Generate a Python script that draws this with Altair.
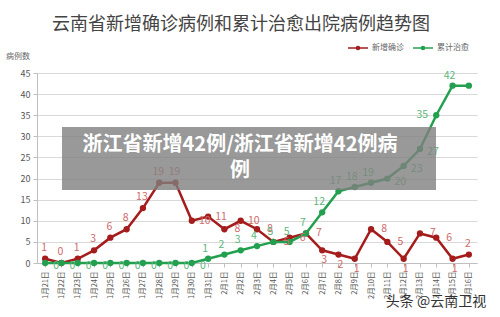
import altair as alt
import pandas as pd

dates = ["1月21日", "1月22日", "1月23日", "1月24日", "1月25日", "1月26日", "1月27日",
         "1月28日", "1月29日", "1月30日", "1月31日", "2月1日", "2月2日", "2月3日",
         "2月4日", "2月5日", "2月6日", "2月7日", "2月8日", "2月9日", "2月10日",
         "2月11日", "2月12日", "2月13日", "2月14日", "2月15日", "2月16日"]
new_cases = [1, 0, 1, 3, 6, 8, 13, 19, 19, 10, 11, 8, 10, 8, 5, 6, 7, 3, 2, 1, 8, 5, 1, 7, 6, 1, 2]
cured = [0, 0, 0, 0, 0, 0, 0, 0, 0, 0, 1, 2, 3, 4, 5, 5, 7, 12, 17, 18, 19, 20, 23, 27, 35, 42, 42]
y_ticks = [0, 5, 10, 15, 20, 25, 30, 35, 40, 45]

title_text = "云南省新增确诊病例和累计治愈出院病例趋势图"
overlay_lines = ["浙江省新增42例/浙江省新增42例病", "例"]
watermark = "头条 @云南卫视"

RED = "#a51c1c"
GREEN = "#23a04f"
RED_LBL = "#d06a6a"
GREEN_LBL = "#5bb87c"
FONT = "Noto Sans CJK SC"

df = pd.DataFrame({"date": dates, "idx": list(range(len(dates))), "new": new_cases, "cured": cured})

x_enc = alt.X("date:N", sort=dates, scale=alt.Scale(type="point", padding=0.5),
              axis=alt.Axis(title=None, labelAngle=270, labelAlign="right", labelBaseline="middle",
                            labelFontSize=7.5, labelColor="#555", labelPadding=4, grid=False,
                            domainColor="#bfbfbf", tickColor="#bfbfbf", tickSize=4, labelFont=FONT))
y_scale = alt.Scale(domain=[0, 45], nice=False)
y_axis = alt.Axis(title=None, values=y_ticks, grid=True, gridColor="#d9d9d9",
                  domainColor="#bfbfbf", tickColor="#bfbfbf", tickSize=4,
                  labelFontSize=9, labelColor="#555", labelPadding=3, labelFont=FONT)

base = alt.Chart(df).encode(x=x_enc)

red_line = base.mark_line(color=RED, strokeWidth=2.5,
                          point=alt.OverlayMarkDef(filled=True, size=40, color=RED)).encode(
    y=alt.Y("new:Q", scale=y_scale, axis=y_axis))
green_line = base.mark_line(color=GREEN, strokeWidth=2.5,
                            point=alt.OverlayMarkDef(filled=True, size=40, color=GREEN)).encode(
    y=alt.Y("cured:Q", scale=y_scale, axis=y_axis))

def lbl(field, color, flt, dx, dy):
    return base.transform_filter(flt).mark_text(color=color, fontSize=10.5, dx=dx, dy=dy, font=FONT).encode(
        y=alt.Y(f"{field}:Q", scale=y_scale, axis=y_axis), text=f"{field}:Q")

red_above = lbl("new", RED_LBL, "datum.idx < 9 || datum.idx == 26", -1, -11)
red_right = lbl("new", RED_LBL, "datum.idx >= 9 && datum.idx < 26 && datum.new > 3", 13, 0)
red_below = lbl("new", RED_LBL, "datum.idx >= 9 && datum.idx < 26 && datum.new <= 3", 2, 10)
green_zero = lbl("cured", GREEN_LBL, "datum.cured == 0", 11, 3)
green_above = lbl("cured", GREEN_LBL, "datum.cured > 0 && (datum.idx < 21 || datum.idx == 25)", -3, -10)
green_right = lbl("cured", GREEN_LBL, "datum.idx >= 21 && datum.idx <= 23", 13, 3)
green_left = lbl("cured", GREEN_LBL, "datum.idx == 24", -14, 0)

one = pd.DataFrame({"a": [0]})
deco = alt.Chart(one)

title = deco.mark_text(text=title_text, fontSize=18, color="#444", font=FONT, align="center",
                       baseline="middle").encode(x=alt.value(204), y=alt.value(-48))
ytitle = deco.mark_text(text="病例数", fontSize=8, color="#666", font=FONT, align="center",
                        baseline="middle").encode(x=alt.value(-19), y=alt.value(-16))

leg_red_rule = deco.mark_rule(color=RED, strokeWidth=1.5).encode(x=alt.value(311), x2=alt.value(331), y=alt.value(-25))
leg_red_pt = deco.mark_point(filled=True, color=RED, size=20, opacity=1).encode(x=alt.value(321), y=alt.value(-25))
leg_red_txt = deco.mark_text(text="新增确诊", fontSize=8, color="#666", font=FONT, align="left",
                             baseline="middle").encode(x=alt.value(335), y=alt.value(-25))
leg_green_rule = deco.mark_rule(color=GREEN, strokeWidth=1.5).encode(x=alt.value(376), x2=alt.value(396), y=alt.value(-25))
leg_green_pt = deco.mark_point(filled=True, color=GREEN, size=20, opacity=1).encode(x=alt.value(386), y=alt.value(-25))
leg_green_txt = deco.mark_text(text="累计治愈", fontSize=8, color="#666", font=FONT, align="left",
                               baseline="middle").encode(x=alt.value(400), y=alt.value(-25))

overlay_rect = deco.mark_rect(color="#808080", opacity=0.8).encode(
    x=alt.value(25), x2=alt.value(399), y=alt.value(54), y2=alt.value(117))
overlay_t1 = deco.mark_text(text=overlay_lines[0], fontSize=20, fontWeight="bold", color="white", font=FONT,
                            align="center", baseline="middle").encode(x=alt.value(203), y=alt.value(72))
overlay_t2 = deco.mark_text(text=overlay_lines[1], fontSize=20, fontWeight="bold", color="white", font=FONT,
                            align="center", baseline="middle").encode(x=alt.value(203), y=alt.value(98))
wm = deco.mark_text(text=watermark, fontSize=14, color="#333", font=FONT, align="center",
                    baseline="middle").encode(x=alt.value(399), y=alt.value(229))

chart = alt.layer(
    red_line, green_line,
    red_above, red_right, red_below, green_zero, green_above, green_right, green_left,
    title, ytitle, leg_red_rule, leg_red_pt, leg_red_txt, leg_green_rule, leg_green_pt, leg_green_txt,
    overlay_rect, overlay_t1, overlay_t2, wm
).properties(
    width=440, height=190,
    autosize=alt.AutoSizeParams(type="none"),
    padding={"left": 37, "top": 73, "right": 23, "bottom": 54},
    background="white"
).configure_view(stroke=None)

chart.save("out.html", embed_options={"renderer": "svg", "actions": False})
